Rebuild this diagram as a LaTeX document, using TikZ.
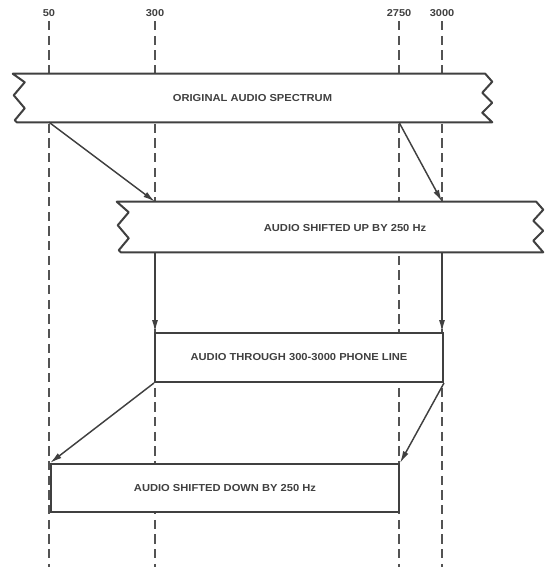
\documentclass[tikz,border=0pt]{standalone}
\usepackage{fontspec}
\setmainfont{Liberation Sans}[FakeStretch=1.1]
\usepackage{tikz}
\usetikzlibrary{arrows.meta,calc,positioning}
\definecolor{ink}{HTML}{404040}

\begin{document}
\begin{tikzpicture}[x=0.75pt, y=-0.75pt,
  tick/.style={font=\bfseries\fontsize{7.5}{8}\selectfont, text=ink, inner sep=1pt},
  guide/.style={draw=ink!90, line width=1pt, dash pattern=on 7pt off 4pt},
  band/.style={rectangle, fill=white, inner sep=0pt, font=\bfseries\fontsize{7.6}{8}\selectfont, text=ink},
  box/.style={rectangle, draw=ink, line width=1.5pt, fill=white, inner sep=0pt, font=\bfseries\fontsize{7.6}{8}\selectfont, text=ink},
  edge/.style={draw=ink, line width=1.5pt, line join=round},
  arr/.style={-{Latex[length=9pt,width=4.5pt]}, draw=ink, line width=1.1pt},
]
\useasboundingbox (0,0) rectangle (544,567);
\coordinate (bot) at (0,567);

% Frequency marks with dashed guides
\node[tick] (n50) at (49,13) {50};
\node[tick] (n300) at (155,13) {300};
\node[tick] (n2750) at (399,13) {2750};
\node[tick] (n3000) at (442,13) {3000};
\foreach \n in {n50,n300,n2750,n3000}
  \draw[guide] ($(\n.south)+(0,3)$) -- (\n |- bot);

% Spectrum bands (zigzag ends)
\node[band, minimum width=359.25pt, minimum height=36pt] (orig) at (252.5,98) {ORIGINAL AUDIO SPECTRUM};
\node[band, minimum width=319.5pt, minimum height=37.5pt] (up) at (330,227) {};
\node[band] (uptext) at (345,228) {AUDIO SHIFTED UP BY 250 Hz};
\foreach \b in {orig,up}
  \draw[edge] (\b.north west) -- ($(\b.north east)+(-7,0)$) -- ($(\b.north east)+(0,8)$)
    -- ($(\b.north east)+(-10,19)$) -- ($(\b.north east)+(0,29)$) -- ($(\b.north east)+(-10,39)$)
    -- (\b.south east) -- ($(\b.south west)+(4,0)$) -- ($(\b.south west)+(2,-2)$)
    -- ($(\b.south west)+(12,-14)$) -- ($(\b.south west)+(1,-27)$) -- ($(\b.south west)+(12,-40)$)
    -- cycle;

% Plain boxes
\node[box, minimum width=216pt, minimum height=36.75pt] (line) at (299,357.5) {AUDIO THROUGH 300-3000 PHONE LINE};
\node[box, minimum width=261pt, minimum height=36pt] (down) at (225,488) {AUDIO SHIFTED DOWN BY 250 Hz};

% Shift arrows
\draw[arr] (orig.south -| n50) -- (up.north -| n300);
\draw[arr] (orig.south -| n2750) -- (up.north -| n3000);
\draw[arr] (up.south -| n300) -- (line.north -| n300);
\draw[arr] (up.south -| n3000) -- (line.north -| n3000);
\draw[arr] (line.south west) -- (down.north west);
\draw[arr] (line.south east) -- (down.north east);
\end{tikzpicture}
\end{document}
